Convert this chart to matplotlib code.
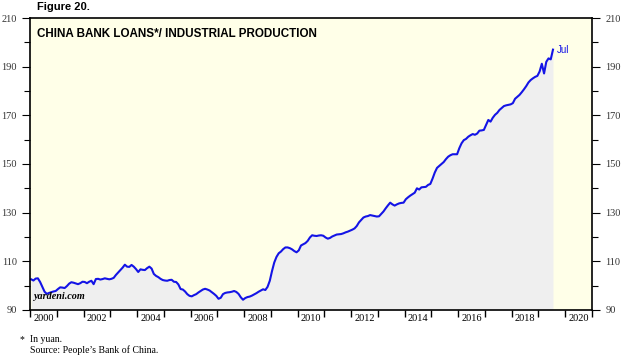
import numpy as np
import matplotlib
matplotlib.use("Agg")
import matplotlib.pyplot as plt

# China bank loans / industrial production, monthly, Jan 2000 - Jul 2019
v2000 = [102.6, 102.1, 102.9, 103.0, 101.5, 99.5, 97.5, 96.6, 97.0, 97.3, 97.6, 97.8]
v2001 = [98.6, 99.3, 99.2, 99.0, 99.8, 100.8, 101.4, 101.2, 100.9, 100.6, 101.0, 101.6]
v2002 = [101.5, 101.0, 101.6, 102.0, 100.6, 102.7, 102.8, 102.5, 102.7, 103.0, 102.8, 102.6]
v2003 = [102.8, 103.2, 104.4, 105.4, 106.4, 107.4, 108.6, 107.8, 107.7, 108.5, 107.8, 106.8]
v2004 = [105.6, 106.7, 106.5, 106.4, 107.2, 107.8, 107.0, 104.8, 104.0, 103.5, 102.8, 102.3]
v2005 = [102.1, 102.0, 102.3, 102.4, 101.6, 101.5, 100.5, 98.6, 98.4, 97.6, 96.5, 95.8]
v2006 = [95.6, 96.1, 96.5, 97.2, 97.8, 98.4, 98.7, 98.4, 98.0, 97.3, 96.6, 95.8]
v2007 = [94.6, 95.0, 96.5, 97.0, 97.2, 97.3, 97.5, 97.8, 97.4, 96.6, 95.2, 94.2]
v2008 = [94.9, 95.3, 95.5, 95.9, 96.4, 96.9, 97.5, 98.0, 98.5, 98.2, 99.5, 102.0]
v2009 = [106.0, 109.5, 111.8, 113.3, 114.0, 115.0, 115.7, 115.7, 115.4, 114.9, 114.2, 113.7]
v2010 = [114.5, 116.5, 117.0, 117.5, 118.4, 119.8, 120.7, 120.5, 120.4, 120.6, 120.7, 120.5]
v2011 = [119.8, 119.3, 119.6, 120.2, 120.6, 121.0, 121.1, 121.2, 121.5, 121.9, 122.2, 122.6]
v2012 = [123.0, 123.5, 124.5, 126.0, 127.0, 128.0, 128.4, 128.6, 129.0, 128.8, 128.6, 128.4]
v2013 = [128.5, 129.5, 130.5, 131.8, 133.0, 134.1, 133.4, 132.9, 133.4, 133.8, 134.0, 134.1]
v2014 = [135.5, 136.3, 137.0, 137.6, 138.2, 140.0, 139.5, 140.4, 140.5, 140.6, 141.4, 141.8]
v2015 = [144.0, 146.5, 148.4, 149.2, 150.0, 150.8, 152.0, 153.0, 153.6, 154.0, 154.0, 154.0]
v2016 = [156.5, 158.5, 159.8, 160.3, 161.2, 161.8, 162.3, 162.0, 162.5, 163.7, 163.8, 164.0]
v2017 = [166.0, 168.1, 167.4, 169.0, 170.2, 171.0, 172.2, 173.0, 173.8, 174.1, 174.3, 174.5]
v2018 = [175.0, 176.8, 177.6, 178.4, 179.5, 180.7, 182.0, 183.5, 184.5, 185.2, 185.8, 186.2]
v2019 = [188.0, 191.2, 187.2, 192.0, 193.4, 193.0, 197.0]

values = np.array(v2000 + v2001 + v2002 + v2003 + v2004 + v2005 + v2006 + v2007
                  + v2008 + v2009 + v2010 + v2011 + v2012 + v2013 + v2014
                  + v2015 + v2016 + v2017 + v2018 + v2019)
dates = 2000 + (np.arange(len(values)) + 0.5) / 12.0

years = list(range(2000, 2022))
year_labels = [str(y) if y % 2 == 0 else "" for y in range(2000, 2021)]

fig = plt.figure(figsize=(6.4, 3.6), dpi=100)
ax = fig.add_axes([0.047, 0.139, 0.878, 0.811])
ax.set_facecolor("#FFFFE8")

ax.fill_between(dates, values, 90, color="#EFEFEF", lw=0)
ax.plot(dates, values, color="#1414E6", lw=1.5)

ax.set_xlim(2000, 2021)
ax.set_ylim(90, 210)

ax.set_xticks(years)
ax.set_xticklabels([])
ax.set_xticks([y + 0.5 for y in range(2000, 2021)], minor=True)
ax.set_xticklabels(year_labels, minor=True, fontfamily="Liberation Serif", fontsize=7.5)
ax.tick_params(axis="x", which="major", direction="out", length=5, width=1)
ax.tick_params(axis="x", which="minor", length=0, pad=3)

ax.set_yticks(range(90, 211, 20))
ax.set_yticks(range(100, 211, 20), minor=True)
ax.tick_params(axis="y", which="both", direction="out", left=True, right=True,
               labelleft=True, labelright=True, labelsize=7.5, width=0.8)
ax.tick_params(axis="y", which="major", length=6)
ax.tick_params(axis="y", which="minor", length=4)
for lab in ax.get_yticklabels():
    lab.set_fontfamily("Liberation Serif")
    lab.set_color("#333333")

for s in ax.spines.values():
    s.set_linewidth(1.2)

ax.text(0.012, 0.965, "CHINA BANK LOANS*/ INDUSTRIAL PRODUCTION", transform=ax.transAxes,
        fontfamily="Liberation Sans", fontweight="bold", fontsize=8.4, va="top", ha="left")
ax.text(0.006, 0.03, "yardeni.com", transform=ax.transAxes, fontfamily="Liberation Serif",
        fontweight="bold", fontstyle="italic", fontsize=7.3, va="bottom", ha="left")
ax.annotate("Jul", (dates[-1], values[-1]), xytext=(3, 0), textcoords="offset points",
            color="#1414E6", fontsize=7, fontfamily="Liberation Sans", va="center")

fig.text(0.058, 0.995, "Figure 20.", fontfamily="Liberation Sans", fontweight="bold",
         fontsize=8, va="top", ha="left")
fig.text(0.03, 0.058, "*", fontfamily="Liberation Serif", fontsize=7, ha="left", va="center")
fig.text(0.047, 0.058, "In yuan.", fontfamily="Liberation Serif", fontsize=7, ha="left", va="center")
fig.text(0.047, 0.028, "Source: People\u2019s Bank of China.", fontfamily="Liberation Serif",
         fontsize=7, ha="left", va="center")

fig.savefig("out.png", dpi=100)
